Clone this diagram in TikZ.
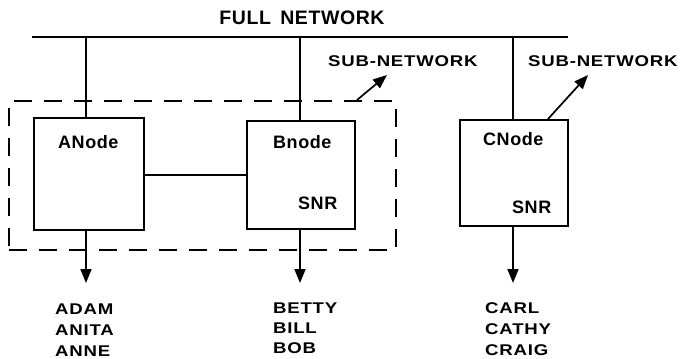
\documentclass[tikz,border=0pt]{standalone}
\usepackage{fontspec}
\setmainfont{Liberation Sans}
\newfontfamily\bigf{Liberation Sans Bold}[LetterSpace=3]
\newfontfamily\smf{Liberation Sans Bold}[FakeStretch=1.2,LetterSpace=5]
\usetikzlibrary{arrows.meta,calc}
\begin{document}
\begin{tikzpicture}[x=1bp,y=-1bp,
  box/.style={draw,line width=1.8bp,inner sep=0,anchor=north west},
  big/.style={font=\bigf\fontsize{18bp}{21bp}\selectfont,inner sep=0,anchor=base west},
  title/.style={font=\bigf\fontsize{19.5bp}{22bp}\selectfont,inner sep=0,anchor=base},
  small/.style={font=\smf\fontsize{15.5bp}{18bp}\selectfont,inner sep=0,anchor=base west},
  bus/.style={line width=2bp},
  tap/.style={line width=1.4bp},
  arr/.style={line width=1.7bp,-{Triangle[length=14bp,width=11bp]}},
  subbox/.style={draw,line width=1.8bp,dash pattern=on 18bp off 12bp,inner sep=0,anchor=north west}
]
\useasboundingbox (0,0) rectangle (685,358);

% title and full network bus
\node[title] (full) at (302,24) {FULL\,\ NETWORK};
\coordinate (fl) at (32,37);
\coordinate (fr) at (568,37);
\draw[bus] (fl) -- (fr);

% sub-network dashed box
\node[subbox,minimum width=387bp,minimum height=149bp] (sub) at (8,100) {};

% node boxes
\node[box,minimum width=110bp,minimum height=112bp] (A) at (33,117) {};
\node[box,minimum width=108bp,minimum height=108bp] (B) at (246,120) {};
\node[box,minimum width=108bp,minimum height=106bp] (C) at (459,119) {};

% labels inside boxes
\node[big] (tA) at (58,148) {ANode};
\node[big] (tB) at (273,148) {Bnode};
\node[big] (tC) at (483,145) {CNode};
\node[big] (sB) at (298,209) {SNR};
\node[big] (sC) at (512,213) {SNR};

% output coordinates
\coordinate (oA) at (86,283);
\coordinate (oB) at (300,283);
\coordinate (oC) at (513,283);

% taps to the bus
\draw[tap] (A.north -| oA) -- (oA |- fl);
\draw[tap] (B.north -| oB) -- (oB |- fl);
\draw[tap] (C.north -| oC) -- (oC |- fl);

% link A-B
\coordinate (lk) at (0,175);
\draw[tap] (A.east |- lk) -- (B.west |- lk);

% sub-network labels and arrows
\node[small] (sn1) at (328,66) {SUB-NETWORK};
\node[small] (sn2) at (528,66) {SUB-NETWORK};
\coordinate (s1a) at (357,100);
\coordinate (s1b) at (387,75);
\coordinate (s2a) at (548,119);
\coordinate (s2b) at (588,75);
\draw[arr] (s1a) -- (s1b);
\draw[arr] (s2a) -- (s2b);

% output arrows
\draw[arr] (A.south -| oA) -- (oA);
\draw[arr] (B.south -| oB) -- (oB);
\draw[arr] (C.south -| oC) -- (oC);

% user names
\node[small] (a1) at (55,314) {ADAM};
\node[small] (a2) at (55,335) {ANITA};
\node[small] (a3) at (55,356) {ANNE};
\node[small] (b1) at (273,313) {BETTY};
\node[small] (b2) at (273,333) {BILL};
\node[small] (b3) at (273,353) {BOB};
\node[small] (c1) at (485,313) {CARL};
\node[small] (c2) at (485,334) {CATHY};
\node[small] (c3) at (485,355) {CRAIG};
\end{tikzpicture}
\end{document}
